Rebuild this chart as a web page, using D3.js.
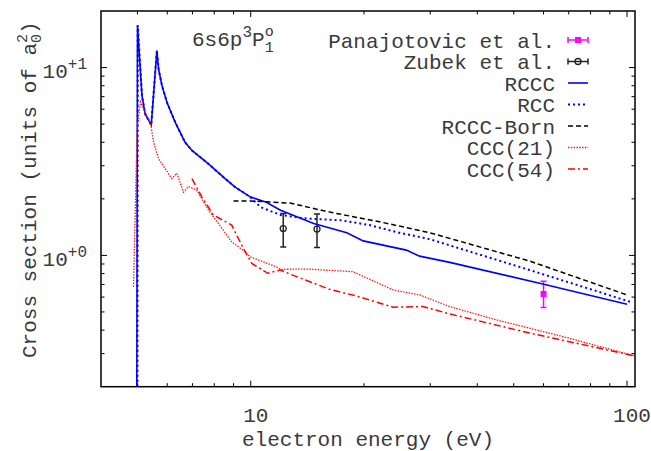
<!DOCTYPE html>
<html>
<head>
<meta charset="utf-8">
<script src="https://cdnjs.cloudflare.com/ajax/libs/d3/7.8.5/d3.min.js"></script>
<style>
    body { margin: 0; background: #fff; }
    text { font-family: "Liberation Mono", "DejaVu Sans Mono", monospace; fill: #3a3a3a; font-size: 21px; }
</style>
</head>
<body>
<div id="chart"></div>
<script>

// DATA  [energy (eV), cross section (a0^2)]
var rccc = [[4.98,0.2],[5.0,16.8],[5.14,7.08],[5.24,5.66],[5.44,4.95],[5.63,12.3],[5.69,9.81],
            [5.81,8.0],[5.99,6.52],[6.30,5.11],[6.69,4.0],[6.98,3.62],[7.72,3.07],[8.55,2.56],
            [9.09,2.31],[9.96,2.05],[11.0,1.92],[12.0,1.74],[14.7,1.48],[18.0,1.32],[19.9,1.195],
            [25.9,1.067],[28.1,0.991],[33.8,0.918],[59.7,0.704],[100,0.55]];

var rcc = [[5.0,0.2],[5.01,16.8],[5.14,7.08],[5.24,5.66],[5.44,4.95],[5.63,12.3],[5.69,9.81],
           [5.81,8.0],[5.99,6.52],[6.30,5.11],[6.69,4.0],[6.98,3.62],[7.72,3.07],[8.55,2.56],
           [9.09,2.31],[9.96,2.05],[10.6,1.81],[12.0,1.64],[14.1,1.57],[17.3,1.54],[20.7,1.45],
           [24.4,1.33],[29.9,1.22],[55.1,0.836],[103.5,0.561]];

var rcccBorn = [[9.0,1.95],[10.0,1.95],[12.0,1.91],[12.7,1.90],[16.2,1.70],[22.0,1.51],
                [29.9,1.32],[55.1,0.933],[100,0.616]];

var ccc21 = [[4.88,0.68],[4.99,4.71],[5.09,6.58],[5.24,5.77],[5.41,5.11],[5.52,4.0],[5.69,3.27],
             [5.93,2.89],[6.17,2.56],[6.36,2.74],[6.63,2.17],[6.83,2.33],[7.19,2.22],[7.72,1.74],
             [8.20,1.48],[8.90,1.18],[9.66,1.045],[9.96,0.983],[11.7,0.87],[12.0,0.843],
             [14.1,0.846],[18.7,0.819],[23.9,0.655],[28.1,0.616],[33.8,0.534],[44.9,0.454],
             [67.5,0.37],[104.5,0.292]];

var ccc54 = [[6.98,2.56],[7.41,2.05],[7.96,1.64],[8.90,1.45],[9.56,1.09],[10.06,0.907],
             [11.1,0.803],[12.0,0.836],[12.7,0.796],[16.2,0.66],[19.1,0.608],[23.9,0.53],
             [28.7,0.534],[33.8,0.488],[55.1,0.386],[104.5,0.292]];

// [energy, value, low, high]
var zubek = [[12.2,1.39,1.11,1.67],[15.0,1.38,1.10,1.66]];
var panajotovic = [[60,0.623,0.528,0.728]];

var xLabels = [10, 100];
var yLabels = [1, 10];
var yExponents = ["+0", "+1"];

var legendNames = ["Panajotovic et al.", "Zubek et al.", "RCCC", "RCC", "RCCC-Born", "CCC(21)", "CCC(54)"];

(function(){

    var W = 651, H = 451;
    var left = 101, right = 635, top = 11, bottom = 386.7;

    var svg = d3.select("#chart").append("svg")
        .attr("width", W)
        .attr("height", H);

    var x = d3.scaleLog().domain([4, 105]).range([left, right]);
    var y = d3.scaleLog().domain([0.2, 20]).range([bottom, top]);

    svg.append("clipPath").attr("id", "plot-clip")
        .append("rect")
        .attr("x", left).attr("y", top)
        .attr("width", right - left).attr("height", bottom - top);

    // line styles, in legend order (after the two data sets)
    var styles = {
        rccc:     {color: "#0000ff", width: 1.6, dash: null},
        rcc:      {color: "#0000ff", width: 2,   dash: "2,3"},
        rcccBorn: {color: "#000000", width: 1.5, dash: "5,3"},
        ccc21:    {color: "#ff1a1a", width: 1.3, dash: "1.5,1.3"},
        ccc54:    {color: "#ff0000", width: 1.5, dash: "7,3,2,3"}
    };

    var isMajor = function(d){ return Math.abs(Math.log10(d) - Math.round(Math.log10(d))) < 1e-6; };

    // ticks (inward, mirrored)
    var xt = x.ticks().filter(function(d){ return d > 4 && d < 105; });
    var yt = y.ticks().filter(function(d){ return d > 0.2 && d < 20; });

    var tickG = svg.append("g").attr("stroke", "#000").attr("stroke-width", 1);

    tickG.selectAll("line.xb").data(xt).enter().append("line")
        .attr("x1", function(d){ return x(d); }).attr("x2", function(d){ return x(d); })
        .attr("y1", bottom).attr("y2", function(d){ return bottom - (isMajor(d) ? 6 : 3.5); });
    tickG.selectAll("line.xt").data(xt).enter().append("line")
        .attr("x1", function(d){ return x(d); }).attr("x2", function(d){ return x(d); })
        .attr("y1", top).attr("y2", function(d){ return top + (isMajor(d) ? 6 : 3.5); });
    tickG.selectAll("line.yl").data(yt).enter().append("line")
        .attr("y1", function(d){ return y(d); }).attr("y2", function(d){ return y(d); })
        .attr("x1", left).attr("x2", function(d){ return left + (isMajor(d) ? 6 : 3.5); });
    tickG.selectAll("line.yr").data(yt).enter().append("line")
        .attr("y1", function(d){ return y(d); }).attr("y2", function(d){ return y(d); })
        .attr("x1", right).attr("x2", function(d){ return right - (isMajor(d) ? 6 : 3.5); });

    // frame
    svg.append("rect")
        .attr("x", left).attr("y", top)
        .attr("width", right - left).attr("height", bottom - top)
        .attr("fill", "none")
        .attr("stroke", "#000")
        .attr("stroke-width", 1.5);

    // tick labels
    svg.selectAll("text.xlab").data(xLabels).enter().append("text")
        .attr("class", "xlab")
        .attr("x", function(d){ return x(d) + 5; })
        .attr("y", 421.5)
        .attr("text-anchor", "middle")
        .text(function(d){ return d; });

    var ylab = svg.selectAll("text.ylab").data(yLabels).enter().append("text")
        .attr("class", "ylab")
        .attr("x", 87)
        .attr("y", function(d){ return y(d) + 10.5; })
        .attr("text-anchor", "end");
    ylab.append("tspan").text("10");
    ylab.append("tspan")
        .attr("dy", -9)
        .style("font-size", "16px")
        .text(function(d, i){ return yExponents[i]; });

    // axis titles
    svg.append("text")
        .attr("x", (left + right) / 2)
        .attr("y", 445.5)
        .attr("text-anchor", "middle")
        .text("electron energy (eV)");

    var yt1 = svg.append("text")
        .attr("transform", "translate(36,358) rotate(-90)");
    yt1.append("tspan").text("Cross section (units of a");
    yt1.append("tspan").attr("dy", 5).style("font-size", "15px").text("0");
    yt1.append("tspan").attr("dx", -9).attr("dy", -14).style("font-size", "15px").text("2");
    yt1.append("tspan").attr("dy", 9).text(")");

    // state label
    var st = svg.append("text").attr("x", 192).attr("y", 46);
    st.append("tspan").text("6s6p");
    st.append("tspan").attr("dy", -9).style("font-size", "16px").text("3");
    st.append("tspan").attr("dy", 9).text("P");
    st.append("tspan").attr("dy", -10).style("font-size", "15px").text("o");
    st.append("tspan").attr("dx", -9).attr("dy", 16).style("font-size", "15px").text("1");

    // error bars
    function drawErrorBars(data, color, marker){
        var g = svg.append("g").attr("clip-path", "url(#plot-clip)");
        var bars = g.selectAll("g.bar").data(data).enter().append("g");
        bars.append("line")
            .attr("x1", function(d){ return x(d[0]); }).attr("x2", function(d){ return x(d[0]); })
            .attr("y1", function(d){ return y(d[2]); }).attr("y2", function(d){ return y(d[3]); })
            .attr("stroke", color).attr("stroke-width", 1.5);
        [2, 3].forEach(function(k){
            bars.append("line")
                .attr("x1", function(d){ return x(d[0]) - 3; }).attr("x2", function(d){ return x(d[0]) + 3; })
                .attr("y1", function(d){ return y(d[k]); }).attr("y2", function(d){ return y(d[k]); })
                .attr("stroke", color).attr("stroke-width", 1.5);
        });
        bars.each(function(d){
            marker(d3.select(this), x(d[0]), y(d[1]));
        });
    }

    function squareMarker(sel, cx, cy){
        sel.append("rect")
            .attr("x", cx - 3).attr("y", cy - 3)
            .attr("width", 6).attr("height", 6)
            .attr("fill", "#ff00ff");
    }

    function circleMarker(sel, cx, cy){
        sel.append("circle")
            .attr("cx", cx).attr("cy", cy).attr("r", 3)
            .attr("fill", "none")
            .attr("stroke", "#222").attr("stroke-width", 1.3);
    }

    drawErrorBars(panajotovic, "#ff00ff", squareMarker);
    drawErrorBars(zubek, "#222", circleMarker);

    // theory curves
    var line = d3.line()
        .x(function(d){ return x(d[0]); })
        .y(function(d){ return y(d[1]); });

    var curves = [["rccc", rccc], ["rcc", rcc], ["rcccBorn", rcccBorn], ["ccc21", ccc21], ["ccc54", ccc54]];

    svg.append("g").attr("clip-path", "url(#plot-clip)")
        .selectAll("path.curve").data(curves).enter().append("path")
        .attr("class", "curve")
        .attr("d", function(d){ return line(d[1]); })
        .attr("fill", "none")
        .attr("stroke", function(d){ return styles[d[0]].color; })
        .attr("stroke-width", function(d){ return styles[d[0]].width; })
        .attr("stroke-dasharray", function(d){ return styles[d[0]].dash; });

    // legend
    var lx = 555, s1 = 568, s2 = 588, ly0 = 47.5, dy = 21.5;

    svg.selectAll("text.legend").data(legendNames).enter().append("text")
        .attr("class", "legend")
        .attr("x", lx)
        .attr("y", function(d, i){ return ly0 + i * dy; })
        .attr("text-anchor", "end")
        .text(function(d){ return d; });

    function legendBar(i, color, marker){
        var cy = ly0 + i * dy - 7.5;
        var g = svg.append("g");
        g.append("line").attr("x1", s1).attr("x2", s2).attr("y1", cy).attr("y2", cy)
            .attr("stroke", color).attr("stroke-width", 1.5);
        [s1, s2].forEach(function(px){
            g.append("line").attr("x1", px).attr("x2", px).attr("y1", cy - 3).attr("y2", cy + 3)
                .attr("stroke", color).attr("stroke-width", 1.5);
        });
        marker(g, (s1 + s2) / 2, cy);
    }
    legendBar(0, "#ff00ff", squareMarker);
    legendBar(1, "#222", circleMarker);

    svg.selectAll("line.legend-sample").data(curves).enter().append("line")
        .attr("class", "legend-sample")
        .attr("x1", s1).attr("x2", s2)
        .attr("y1", function(d, i){ return ly0 + (i + 2) * dy - 7.5; })
        .attr("y2", function(d, i){ return ly0 + (i + 2) * dy - 7.5; })
        .attr("stroke", function(d){ return styles[d[0]].color; })
        .attr("stroke-width", function(d){ return styles[d[0]].width; })
        .attr("stroke-dasharray", function(d){ return styles[d[0]].dash; });

})();
</script>
</body>
</html>
